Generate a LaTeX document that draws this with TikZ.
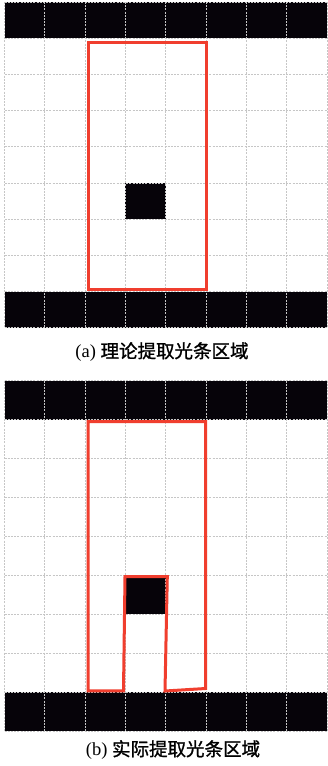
\documentclass[tikz,border=0pt]{standalone}
\usepackage{fontspec}
\setmainfont{Liberation Serif}
\newfontfamily\cjk[FakeBold=1.2]{Noto Sans CJK SC}
\definecolor{redline}{RGB}{240,62,46}
\definecolor{cellblack}{RGB}{6,3,9}
\begin{document}
\begin{tikzpicture}[x=1pt,y=-1pt,
  gridline/.style={draw=gray!45,line width=0.8pt,dash pattern=on 2pt off 1.2pt},
  blackcell/.style={fill=cellblack},
  redpath/.style={draw=redline,line width=3pt,line join=miter},
  caption/.style={inner sep=0pt,font=\fontsize{18.5}{20}\selectfont}]
\useasboundingbox (0,0) rectangle (328,766);
\fill[white] (0,0) rectangle (328,766);
% ---- top grid (a)
\fill[blackcell] (4.5,2) rectangle (326.9,38.2);
\fill[blackcell] (4.5,291.6) rectangle (326.9,327.8);
\fill[blackcell] (125.4,183) rectangle (165.7,219.2);
\foreach \i in {0,...,8} {
  \draw[gridline] ({4.5+40.3*\i},2) -- ({4.5+40.3*\i},327.8);
}
\foreach \j in {0,...,9} {
  \draw[gridline] (4.5,{2+36.2*\j}) -- (326.9,{2+36.2*\j});
}
\draw[redpath] (88,42) rectangle (206,289);
\node[caption] (capa) at (162,352) {(a) {\cjk 理论提取光条区域}};
% ---- bottom grid (b)
\fill[blackcell] (4.5,380.5) rectangle (326.9,419.5);
\fill[blackcell] (4.5,692) rectangle (326.9,731);
\fill[blackcell] (125.4,575.5) rectangle (165.7,614);
\foreach \i in {0,...,8} {
  \draw[gridline] ({4.5+40.3*\i},380.5) -- ({4.5+40.3*\i},731);
}
\foreach \j in {0,...,9} {
  \draw[gridline] (4.5,{380.5+38.95*\j}) -- (326.9,{380.5+38.95*\j});
}
\draw[redpath] (88,421.5) -- (205.5,421.5) -- (205.5,688.5) -- (165,691)
  -- (167.3,576.5) -- (125,576.5) -- (123.5,690.8) -- (88,690.8) -- cycle;
\node[caption] (capb) at (173,750) {(b) {\cjk 实际提取光条区域}};
\end{tikzpicture}
\end{document}
